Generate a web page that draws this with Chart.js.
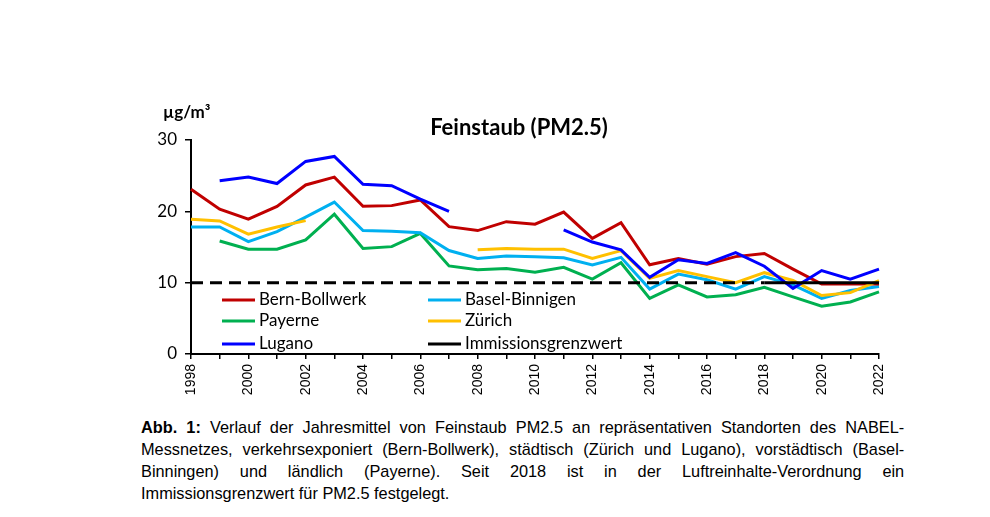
<!DOCTYPE html>
<html>
<head>
<meta charset="utf-8">
<script src="https://cdn.jsdelivr.net/npm/chart.js@4.4.1/dist/chart.umd.min.js"></script>
<style>
  body { margin: 0; background: #fff; width: 990px; height: 517px; overflow: hidden; }
  #wrap { position: absolute; left: 0; top: 0; width: 990px; height: 400px; }
  #caption { position: absolute; left: 141px; top: 417px; width: 795px;
    transform: scaleX(0.96); transform-origin: left top;
    font-family: "Liberation Sans Narrow", "Arial Narrow", "Liberation Sans", sans-serif;
    font-size: 17px; color: #000; }
  #caption div { height: 22px; line-height: 22px; text-align: justify; text-align-last: justify; white-space: nowrap; }
  #caption div.last { text-align-last: left; }
</style>
</head>
<body>
<div id="wrap"><canvas id="chart"></canvas></div>
<div id="caption">
  <div><b>Abb. 1:</b> Verlauf der Jahresmittel von Feinstaub PM2.5 an repräsentativen Standorten des NABEL-</div>
  <div>Messnetzes, verkehrsexponiert (Bern-Bollwerk), städtisch (Zürich und Lugano), vorstädtisch (Basel-</div>
  <div>Binningen) und ländlich (Payerne). Seit 2018 ist in der Luftreinhalte-Verordnung ein</div>
  <div class="last">Immissionsgrenzwert für PM2.5 festgelegt.</div>
</div>
<script>
var years = ["1998", "1999", "2000", "2001", "2002", "2003", "2004", "2005", "2006", "2007", "2008", "2009", "2010",
  "2011", "2012", "2013", "2014", "2015", "2016", "2017", "2018", "2019", "2020", "2021", "2022"];

var bern = [23.1, 20.3, 18.9, 20.7, 23.7, 24.8, 20.7, 20.8, 21.6, 17.85, 17.3, 18.55, 18.2,
  19.9, 16.2, 18.4, 12.5, 13.4, 12.6, 13.65, 14.1, 11.9, 9.8, 9.8, 9.8];
var basel = [17.8, 17.8, 15.75, 17.15, 19.2, 21.3, 17.3, 17.2, 17.0, 14.5, 13.4, 13.75, 13.65,
  13.5, 12.5, 13.55, 9.1, 11.2, 10.4, 9.1, 10.85, 9.7, 7.8, 8.9, 9.45];
var payerne = [null, 15.85, 14.7, 14.7, 16.0, 19.6, 14.8, 15.05, 16.9, 12.35, 11.8, 12.0, 11.45,
  12.15, 10.5, 12.8, 7.8, 9.7, 8.0, 8.3, 9.35, 8.0, 6.7, 7.3, 8.7];
var zuerich = [18.9, 18.65, 16.8, 17.8, 18.7, null, null, null, null, null, 14.6, 14.8, 14.7,
  14.7, 13.4, 14.5, 10.6, 11.7, 10.85, 10.0, 11.4, 10.3, 8.2, 8.6, 10.3];
var lugano = [null, 24.3, 24.8, 23.9, 27.0, 27.7, 23.8, 23.6, 21.7, 20.0, null, null, null,
  17.4, 15.7, 14.6, 10.75, 13.2, 12.7, 14.2, 12.3, 9.2, 11.7, 10.5, 11.9];
// Grenzwert seit 2018 (durchgezogen), davor gestrichelt
var grenzwert = [null, null, null, null, null, null, null, null, null, null, null, null, null,
  null, null, null, null, null, null, null, 10, 10, 10, 10, 10];
var grenzwertVorher = [10, 10, 10, 10, 10, 10, 10, 10, 10, 10, 10, 10, 10,
  10, 10, 10, 10, 10, 10, 10, 10, null, null, null, null];

var yTicks = [0, 10, 20, 30];

function line(label, data, color) {
  return {
    label: label,
    data: data,
    borderColor: color,
    backgroundColor: color,
    borderWidth: 3,
    pointRadius: 0,
    tension: 0,
    spanGaps: false
  };
}

var datasets = [
  line("Immissionsgrenzwert", grenzwert, "#000000"),
  Object.assign(line("", grenzwertVorher, "#000000"), { borderDash: [12, 7] }),
  line("Lugano", lugano, "#0000FF"),
  line("Zürich", zuerich, "#FFC000"),
  line("Bern-Bollwerk", bern, "#C00000"),
  line("Basel-Binnigen", basel, "#00B0F0"),
  line("Payerne", payerne, "#00B050")
];

// Legende in zwei Spalten im Diagramm
var legendItems = [
  ["Bern-Bollwerk", "#C00000", 222, 300], ["Basel-Binnigen", "#00B0F0", 428, 300],
  ["Payerne", "#00B050", 222, 321], ["Zürich", "#FFC000", 428, 321],
  ["Lugano", "#0000FF", 222, 344], ["Immissionsgrenzwert", "#000000", 428, 344]
];

var textPlugin = {
  id: 'texts',
  afterDraw: function(chart) {
    var ctx = chart.ctx;
    ctx.save();
    ctx.fillStyle = "#000";
    ctx.textBaseline = "middle";
    ctx.font = "bold 22px Lato";
    ctx.textAlign = "center";
    ctx.fillText("Feinstaub (PM2.5)", 519, 128);
    ctx.font = "bold 17px Lato";
    ctx.textAlign = "left";
    ctx.fillText("µg/m³", 163, 113);
    ctx.font = "17px Lato";
    legendItems.forEach(function(it) {
      ctx.strokeStyle = it[1];
      ctx.lineWidth = 3;
      ctx.beginPath();
      ctx.moveTo(it[2], it[3]);
      ctx.lineTo(it[2] + 33, it[3]);
      ctx.stroke();
      ctx.fillText(it[0], it[2] + 37, it[3]);
    });
    ctx.restore();
  }
};

new Chart('chart', {
  type: 'line',
  data: { labels: years, datasets: datasets },
  options: {
    responsive: true,
    maintainAspectRatio: false,
    animation: false,
    layout: { padding: { top: 140, right: 111, left: 0, bottom: 0 } },
    plugins: { legend: { display: false }, tooltip: { enabled: false }, title: { display: false } },
    scales: {
      x: {
        offset: false,
        afterFit: function(s) { s.height = 46; },
        border: { color: "#000", width: 2 },
        grid: { drawOnChartArea: false, drawTicks: true, tickLength: 5, color: "#000", lineWidth: 1.5 },
        ticks: {
          autoSkip: false, minRotation: 90, maxRotation: 90, color: "#000",
          font: { family: "Liberation Sans", size: 14 },
          padding: 5,
          callback: function(v, i) { return i % 2 === 0 ? years[i] : ""; }
        }
      },
      y: {
        min: 0, max: 30,
        afterFit: function(s) { s.width = 191; },
        afterBuildTicks: function(s) { s.ticks = yTicks.map(function(v) { return { value: v }; }); },
        border: { color: "#000", width: 2 },
        grid: { drawOnChartArea: false, drawTicks: true, tickLength: 6, color: "#000", lineWidth: 1.5 },
        ticks: { color: "#000", font: { family: "Lato", size: 17 }, padding: 8 }
      }
    }
  },
  plugins: [textPlugin]
});
</script>
</body>
</html>
